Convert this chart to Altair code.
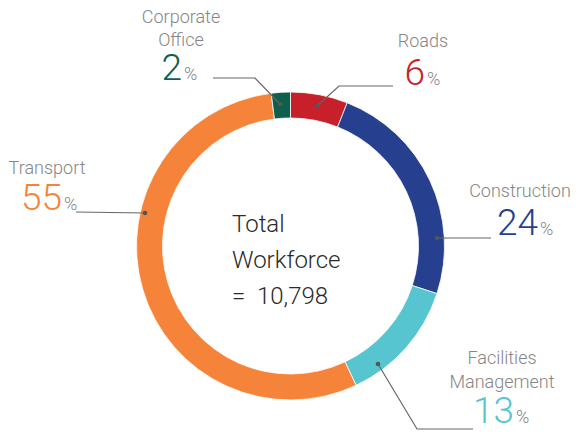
import altair as alt
import pandas as pd

# ---- data ----
categories = ["Roads", "Construction", "Facilities Management", "Transport", "Corporate Office"]
shares = [6, 24, 13, 55, 2]
colors = ["#C8202A", "#263F8F", "#56C5CF", "#F5843A", "#0E604C"]

# category label lines (text) and their share numbers
label_lines = [["Roads"], ["Construction"], ["Facilities", "Management"], ["Transport"], ["Corporate", "Office"]]
center_lines = ["Total", "Workforce", "=\u00a0\u00a010,798"]

# ---- layout (chart pixel coordinates) ----
CX, CY, R_OUT, R_IN = 282.5, 238, 154, 128
label_center_x = [415, 512, 494, 39, 173]
label_first_baseline = [39, 189, 356, 166, 15]
label_line_gap = [24, 24, 24, 24, 23]
number_end = [417, 530, 506, 54, 174]
number_baseline = [77, 227, 415, 202, 72]
leader_pts = [
    [(385, 78), (331, 78), (309, 98)],
    [(483, 230), (429, 230)],
    [(465, 421), (409, 421), (370, 356)],
    [(68, 204), (137, 205)],
    [(205, 70), (247, 70), (272, 96)],
]

pie_df = pd.DataFrame({"category": categories, "share": shares, "order": list(range(len(categories)))})

lab_rows, num_rows, line_rows, dot_rows = [], [], [], []
for i, cat in enumerate(categories):
    for j, t in enumerate(label_lines[i]):
        lab_rows.append({"x": label_center_x[i], "y": label_first_baseline[i] + label_line_gap[i] * j, "t": t})
    num_rows.append({"x": number_end[i], "y": number_baseline[i], "t": str(shares[i]), "category": cat})
    for k, (px, py) in enumerate(leader_pts[i]):
        line_rows.append({"x": px, "y": py, "k": k, "category": cat})
    dx, dy = leader_pts[i][-1]
    dot_rows.append({"x": dx, "y": dy})

center_df = pd.DataFrame({"x": [224] * 3, "y": [224, 260, 296], "t": center_lines})

color_scale = alt.Scale(domain=categories, range=colors)
FONT = "Roboto"

arc = alt.Chart(pie_df).mark_arc(
    outerRadius=R_OUT, innerRadius=R_IN, stroke="white", strokeWidth=0.8
).encode(
    theta=alt.Theta("share:Q", stack=True),
    order=alt.Order("order:Q"),
    color=alt.Color("category:N", scale=color_scale, legend=None),
    x=alt.value(CX), y=alt.value(CY),
)

lines = alt.Chart(pd.DataFrame(line_rows)).mark_line(color="#666666", strokeWidth=1.2).encode(
    x=alt.X("x:Q", scale=None, axis=None),
    y=alt.Y("y:Q", scale=None, axis=None),
    detail="category:N",
    order="k:Q",
)

dots = alt.Chart(pd.DataFrame(dot_rows)).mark_circle(size=22, color="#555555", opacity=1).encode(
    x=alt.X("x:Q", scale=None), y=alt.Y("y:Q", scale=None)
)

labels = alt.Chart(pd.DataFrame(lab_rows)).mark_text(
    font=FONT, fontSize=18, fontWeight=300, color="#858585", align="center", baseline="alphabetic"
).encode(x=alt.X("x:Q", scale=None), y=alt.Y("y:Q", scale=None), text="t:N")

numbers = alt.Chart(pd.DataFrame(num_rows)).mark_text(
    font=FONT, fontSize=37, fontWeight=300, align="right", baseline="alphabetic"
).encode(
    x=alt.X("x:Q", scale=None), y=alt.Y("y:Q", scale=None), text="t:N",
    color=alt.Color("category:N", scale=color_scale, legend=None),
)

pct = alt.Chart(pd.DataFrame(num_rows)).mark_text(
    font=FONT, fontSize=18, fontWeight=300, color="#858585", align="left", baseline="alphabetic", dx=2
).encode(x=alt.X("x:Q", scale=None), y=alt.Y("y:Q", scale=None), text=alt.value("%"))

center = alt.Chart(center_df).mark_text(
    font=FONT, fontSize=24, fontWeight=300, color="#2a2a2a", align="left", baseline="alphabetic"
).encode(x=alt.X("x:Q", scale=None), y=alt.Y("y:Q", scale=None), text="t:N")

chart = alt.layer(arc, lines, dots, labels, numbers, pct, center).properties(
    width=564, height=424, padding=0, autosize="none"
).configure_view(stroke=None)

chart.save("out.html", embed_options={"renderer": "svg", "actions": False})
